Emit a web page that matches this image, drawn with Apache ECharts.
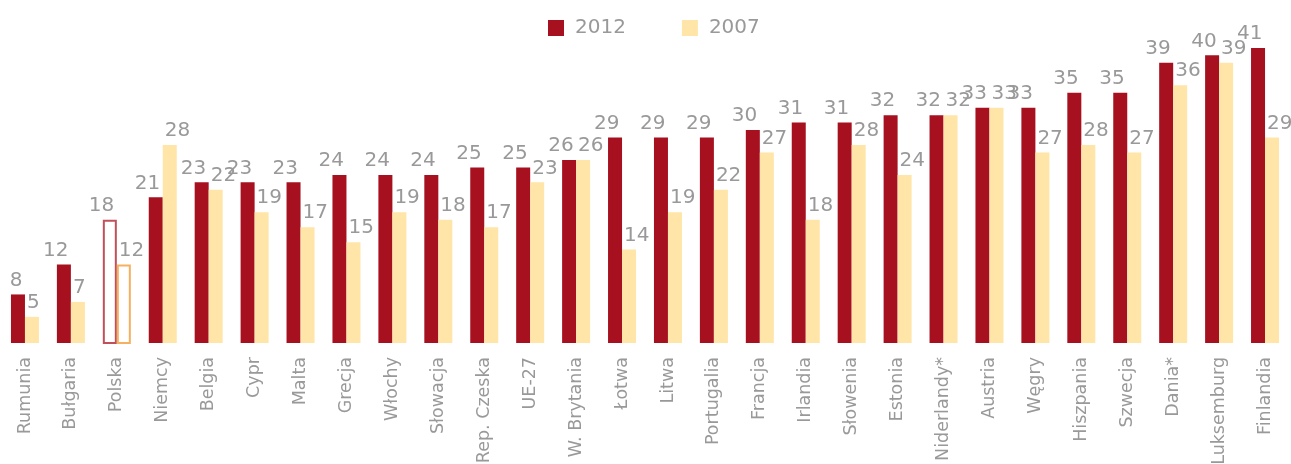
<!DOCTYPE html>
<html>
<head>
<meta charset="utf-8">
<script src="https://cdn.jsdelivr.net/npm/echarts@6/dist/echarts.min.js"></script>
<style>
html,body{margin:0;padding:0;background:#fff;}
#chart{width:1291px;height:464px;}
</style>
</head>
<body>
<div id="chart"></div>
<script>
var categories = ["Rumunia","Bułgaria","Polska","Niemcy","Belgia","Cypr","Malta","Grecja","Włochy","Słowacja","Rep. Czeska","UE-27","W. Brytania","Łotwa","Litwa","Portugalia","Francja","Irlandia","Słowenia","Estonia","Niderlandy*","Austria","Węgry","Hiszpania","Szwecja","Dania*","Luksemburg","Finlandia"];
var values2012 = [8,12,18,21,23,23,23,24,24,24,25,25,26,29,29,29,30,31,31,32,32,33,33,35,35,39,40,41];
var values2007 = [5,7,12,28,22,19,17,15,19,18,17,23,26,14,19,22,27,18,28,24,32,33,27,28,27,36,39,29];
var seriesNames = ["2012","2007"];
var highlighted = "Polska";

var COLOR_2012 = "#a6101f";
var COLOR_2007 = "#ffe5a8";
var GRAY = "#999999";
var FONT = "DejaVu Sans";

function buildData(values, border) {
  return values.map(function (v, i) {
    if (categories[i] === highlighted) {
      return { value: v, itemStyle: { color: "rgba(255,255,255,0)", borderColor: border, borderWidth: 2 } };
    }
    return v;
  });
}

function labelCfg(align, dx) {
  return { show: true, position: "top", distance: 4, align: align, offset: [dx, 0],
           color: GRAY, fontFamily: FONT, fontSize: 20 };
}

var chart = echarts.init(document.getElementById("chart"));
chart.setOption({
  animation: false,
  backgroundColor: "#fff",
  legend: {
    top: 13, left: 543,
    itemWidth: 16, itemHeight: 16, itemGap: 56,
    icon: "rect",
    textStyle: { color: GRAY, fontFamily: FONT, fontSize: 20, padding: [0,0,0,6] },
    data: seriesNames
  },
  grid: { left: 2, right: 3, top: 18, bottom: 121, containLabel: false, outerBoundsMode: "none" },
  xAxis: {
    type: "category",
    data: categories,
    axisLine: { show: false },
    axisTick: { show: false },
    axisLabel: { rotate: 90, margin: 14, color: GRAY, fontFamily: FONT, fontSize: 17.5, interval: 0 }
  },
  yAxis: { type: "value", min: 1.5, max: 45, show: false, splitLine: { show: false } },
  series: [
    { name: seriesNames[0], type: "bar", barWidth: 14, barGap: "0%", itemStyle: { color: COLOR_2012 },
      label: labelCfg("right", 4.5), data: buildData(values2012, "#c2505b") },
    { name: seriesNames[1], type: "bar", barWidth: 14, barGap: "0%", itemStyle: { color: COLOR_2007 },
      label: labelCfg("left", -5), data: buildData(values2007, "#f5b060") }
  ]
});
</script>
</body>
</html>
